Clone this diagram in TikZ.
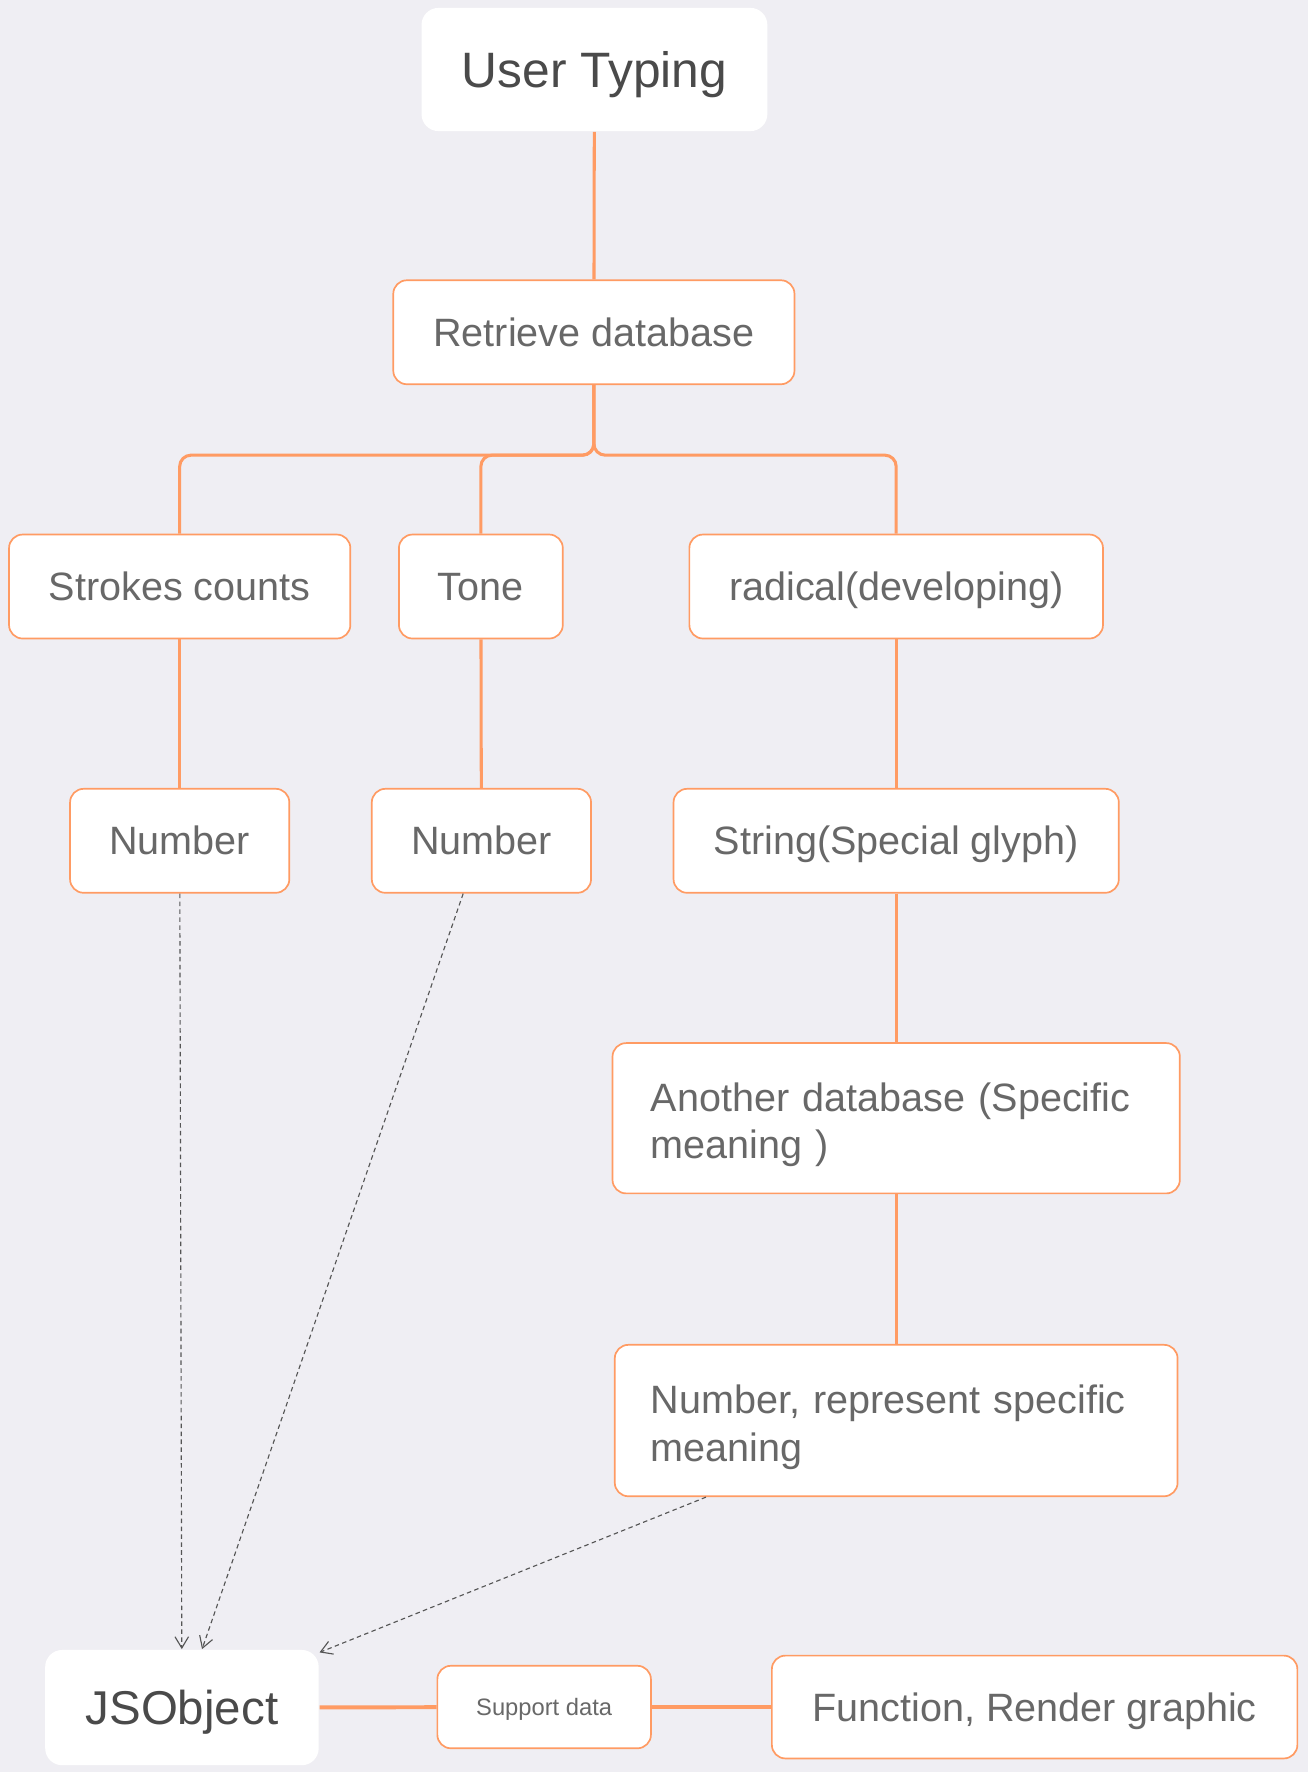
\documentclass[tikz,border=0pt]{standalone}
\usepackage{fontspec}
\setmainfont{Liberation Sans}
\usetikzlibrary{arrows.meta}

\definecolor{canvas}{RGB}{239,238,243}
\definecolor{peach}{RGB}{255,155,99}
\definecolor{inkgray}{RGB}{104,104,104}
\definecolor{inkdark}{RGB}{74,74,74}
\definecolor{dashgray}{RGB}{85,85,85}

\tikzset{
	card/.style={draw=peach, line width=0.75pt, fill=white, rounded corners=6pt, text=inkgray,
		inner sep=0pt, minimum height=46pt, text height=12.7pt, text depth=0.2pt,
		font=\fontsize{17.5}{21}\selectfont, align=center},
	widecard/.style={card, text width=217pt, text height=14pt, text depth=20pt, align=left},
	bigcard/.style={fill=white, rounded corners=7.5pt, text=inkdark, inner sep=0pt, text depth=0.2pt},
	link/.style={draw=peach, line width=1.35pt},
	thicklink/.style={draw=peach, line width=1.75pt},
	feed/.style={draw=dashgray, line width=0.5pt, dash pattern={on 2pt off 1.5pt},
		-{Straight Barb[length=5pt,width=6pt]}}}
\tikzset{every picture/.style={line width=0.75pt}}

\begin{document}
\begin{tikzpicture}[x=0.5pt,y=0.5pt,yscale=-1,xscale=1]
	%Background
	\fill [canvas] (0,0) rectangle (1157,1568);
	\useasboundingbox (0,0) rectangle (1157,1568);

	%Rounded Rect: top
	\node [bigcard, minimum width=153pt, minimum height=54.5pt, text height=16pt, font=\fontsize{22}{26}\selectfont] (user) at (526,61.5) {User Typing};
	%Rounded Rect
	\node [card, minimum width=177.5pt] (retrieve) at (525.5,294) {Retrieve database};
	%Rounded Rect: first level
	\node [card, minimum width=151pt] (strokes) at (159,519) {Strokes counts};
	\node [card, minimum width=72.5pt] (tone) at (425.5,519) {Tone};
	\node [card, minimum width=183pt] (radical) at (793,519) {radical(developing)};
	%Rounded Rect: second level
	\node [card, minimum width=97pt] (strokenum) at (159,744) {Number};
	\node [card, minimum width=97pt] (tonenum) at (426,744) {Number};
	\node [card, minimum width=197pt] (glyph) at (793,744) {String(Special glyph)};
	%Rounded Rect: meaning chain
	\node [widecard, minimum width=251pt, minimum height=66.5pt] (another) at (793,989.5) {Another database (Specific meaning )};
	\node [widecard, minimum width=249pt, minimum height=67pt] (meaning) at (793,1257) {Number, represent specific meaning};
	%Rounded Rect: bottom row
	\node [bigcard, minimum width=121pt, minimum height=51pt, text height=15.2pt, font=\fontsize{21}{25}\selectfont] (json) at (161,1511) {JSObject};
	\node [card, minimum width=94.5pt, minimum height=36.5pt, text height=7.6pt, text depth=0.1pt, font=\fontsize{10.5}{12}\selectfont] (support) at (481.5,1510.5) {Support data};
	\node [card, minimum width=232.5pt, minimum height=45.5pt] (render) at (915.5,1510.5) {Function, Render graphic};

	%Straight Lines
	\draw [link] (user) -- (retrieve);
	\draw [link, rounded corners=5pt] (retrieve.south) -- ++(0,62) -| (strokes.north);
	\draw [link, rounded corners=5pt] (retrieve.south) -- ++(0,62) -| (tone.north);
	\draw [link, rounded corners=5pt] (retrieve.south) -- ++(0,62) -| (radical.north);
	\draw [link] (strokes) -- (strokenum);
	\draw [link] (tone) -- (tonenum);
	\draw [link] (radical) -- (glyph);
	\draw [link] (glyph) -- (another);
	\draw [link] (another) -- (meaning);
	%Straight Lines: bottom row
	\draw [thicklink] (json) -- (support);
	\draw [thicklink] (support) -- (render);

	%Dashed Arrows
	\draw [feed] (strokenum) -- (json);
	\draw [feed] (tonenum) -- (json);
	\draw [feed] (meaning) -- (json);

\end{tikzpicture}
\end{document}
